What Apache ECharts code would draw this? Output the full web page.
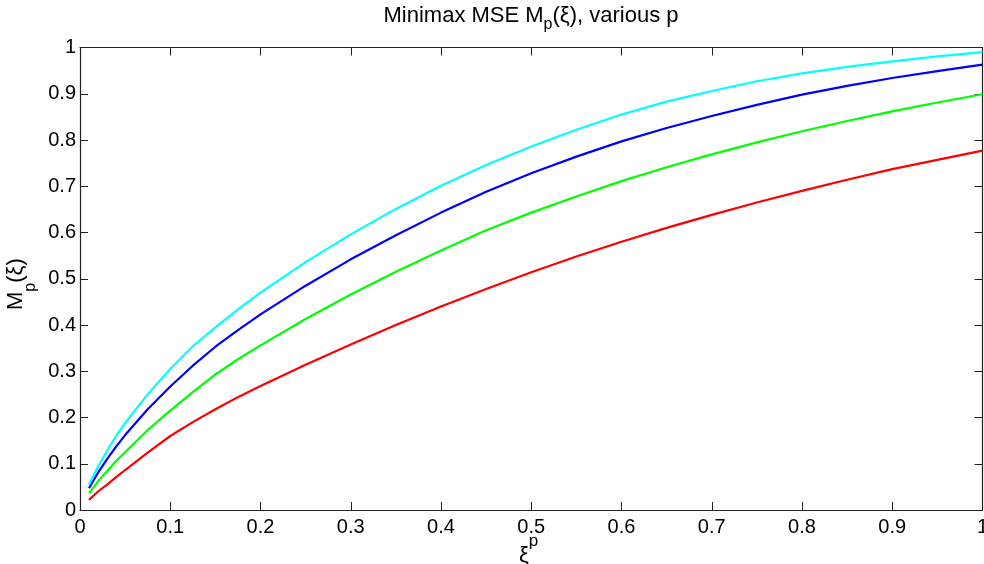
<!DOCTYPE html>
<html>
<head>
<meta charset="utf-8">
<script src="https://cdn.jsdelivr.net/npm/echarts@6/dist/echarts.min.js"></script>
<style>html,body{margin:0;padding:0;background:#fff}#c{width:984px;height:564px}</style>
</head>
<body>
<div id="c"></div>
<script>
var xi = [0.01,0.02,0.03,0.04,0.05,0.075,0.1,0.125,0.15,0.175,0.2,0.25,0.3,0.35,0.4,0.45,0.5,0.55,0.6,0.65,0.7,0.75,0.8,0.85,0.9,0.95,1.0];
var redVals   = [0.022,0.040,0.055,0.071,0.086,0.124,0.160,0.190,0.218,0.244,0.268,0.314,0.358,0.400,0.440,0.478,0.514,0.548,0.580,0.610,0.638,0.665,0.690,0.714,0.737,0.757,0.777];
var greenVals = [0.036,0.062,0.084,0.106,0.125,0.173,0.215,0.255,0.293,0.326,0.356,0.413,0.466,0.515,0.561,0.605,0.643,0.678,0.711,0.741,0.769,0.795,0.819,0.841,0.862,0.881,0.899];
var blueVals  = [0.047,0.081,0.110,0.137,0.162,0.218,0.267,0.312,0.353,0.389,0.423,0.485,0.542,0.594,0.643,0.688,0.728,0.764,0.797,0.826,0.852,0.876,0.898,0.917,0.934,0.949,0.963];
var cyanVals  = [0.055,0.094,0.128,0.160,0.188,0.250,0.305,0.354,0.395,0.434,0.470,0.536,0.596,0.651,0.701,0.746,0.786,0.822,0.855,0.883,0.906,0.927,0.944,0.958,0.970,0.981,0.990];
var seriesColors = ['#ff0000','#00ff00','#0000ff','#00ffff'];
var seriesVals = [redVals, greenVals, blueVals, cyanVals];

var FONT = '"Liberation Sans", Arial, Helvetica, sans-serif';
var chart = echarts.init(document.getElementById('c'), null, {renderer:'canvas'});
function pairs(v){ return xi.map(function(x,i){ return [x, v[i]]; }); }
var lab = function(v){ return String(+v.toFixed(1)); };
function axisCommon(extra){
  return Object.assign({
    type:'value', min:0, max:1, interval:0.1,
    axisLine:{show:true, onZero:false, lineStyle:{color:'#222', width:1.2}},
    axisTick:{show:true, inside:true, length:8, lineStyle:{color:'#222'}},
    splitLine:{show:false}
  }, extra);
}
var option = {
  animation:false,
  backgroundColor:'#fff',
  grid:{left:80, right:1.5, top:47.5, bottom:54, containLabel:false, outerBoundsMode:'none'},
  xAxis:[
    axisCommon({position:'bottom', axisLabel:{show:true, fontSize:20, color:'#000', fontFamily:FONT, margin:7, formatter:lab}}),
    axisCommon({position:'top', axisLabel:{show:false}})
  ],
  yAxis:[
    axisCommon({position:'left', axisLabel:{show:true, fontSize:20, color:'#000', fontFamily:FONT, margin:4, formatter:lab}}),
    axisCommon({position:'right', axisLabel:{show:false}})
  ],
  series: seriesVals.map(function(v,i){
    return {type:'line', data:pairs(v), showSymbol:false, smooth:false,
      lineStyle:{color:seriesColors[i], width:2.2, join:'round'}, itemStyle:{color:seriesColors[i]}, z:2+i};
  }),
  graphic:[
    {type:'text', x:531, y:-1, style:{
      text:'{n|Minimax MSE M}{s|p}{n|(ξ), various p}', align:'center',
      rich:{
        n:{fontSize:22, fontFamily:FONT, fill:'#000', lineHeight:34, verticalAlign:'middle'},
        s:{fontSize:16, fontFamily:FONT, fill:'#000', lineHeight:34, verticalAlign:'bottom'}
      }}},
    {type:'text', x:519, y:533, style:{
      text:'{n|ξ}{s|p}',
      rich:{
        n:{fontSize:22, fontFamily:FONT, fill:'#000', lineHeight:34, verticalAlign:'bottom'},
        s:{fontSize:17, fontFamily:FONT, fill:'#000', lineHeight:34, verticalAlign:'top'}
      }}},
    {type:'text', x:5, y:310, rotation:Math.PI/2, style:{
      text:'{n|M}{s|p}{n|(ξ)}',
      rich:{
        n:{fontSize:22, fontFamily:FONT, fill:'#000', lineHeight:34, verticalAlign:'top'},
        s:{fontSize:16, fontFamily:FONT, fill:'#000', lineHeight:34, verticalAlign:'bottom'}
      }}}
  ]
};
chart.setOption(option);
</script>
</body>
</html>
